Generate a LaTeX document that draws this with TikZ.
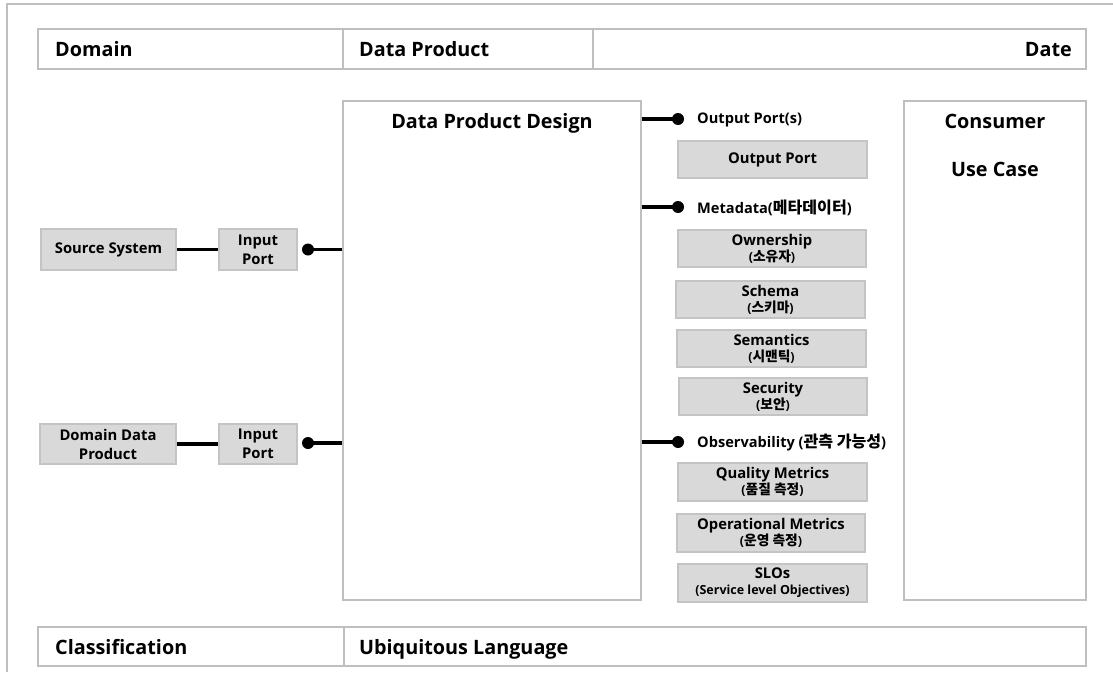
\documentclass[tikz,border=0pt]{standalone}
\usepackage{fontspec}
\setmainfont{Open Sans}
\newfontfamily\kr{Noto Sans CJK KR}[Scale=1.1]
\usetikzlibrary{calc}

\definecolor{frame}{HTML}{BFBFBF}
\definecolor{boxfill}{HTML}{D9D9D9}
\definecolor{boxline}{HTML}{C4C4C4}

% smaller second line inside the metadata / metric boxes
\newcommand{\subline}[1]{{\fontsize{12.5}{15}\selectfont\bfseries #1}}

\tikzset{
  x=1pt, y=-1pt,
  frameline/.style={draw=frame, line width=1.6pt},
  graybox/.style={draw=boxline, fill=boxfill, line width=1.2pt, align=center,
    inner sep=0pt, font=\fontsize{14.8}{19}\selectfont\bfseries},
  bigtext/.style={font=\fontsize{19.8}{22}\selectfont\bfseries, inner sep=0pt},
  porttext/.style={font=\fontsize{14.6}{16}\selectfont\bfseries, inner sep=0pt, anchor=west},
  wire/.style={line width=3.6pt, black},
  plug/.style={circle, fill=black, inner sep=0pt, minimum size=12pt},
}

\begin{document}
\begin{tikzpicture}
\useasboundingbox (0,0) rectangle (1113,672);

% outer sheet edge
\draw[frameline] (7,672) -- (7,4) -- (1113,4);

% header row
\node[frameline, minimum width=1048pt, minimum height=40pt, inner sep=0pt] (header) at (562,49) {};
\draw[frameline] (343,29) -- (343,69);
\draw[frameline] (593,29) -- (593,69);
\node[bigtext, anchor=base west] (domain) at (55,56.5) {Domain};
\node[bigtext, anchor=base west] (dproduct) at (359,56.5) {Data Product};
\node[bigtext, anchor=base east] (date) at (1072,56.5) {Date};

% footer row
\node[frameline, minimum width=1048pt, minimum height=39pt, inner sep=0pt] (footer) at (562,646.5) {};
\draw[frameline] (344,627) -- (344,666);
\node[bigtext, anchor=base west] (classif) at (55,654) {Classification};
\node[bigtext, anchor=base west] (ubiq) at (359,654) {Ubiquitous Language};

% main design box
\node[frameline, minimum width=298pt, minimum height=499pt, inner sep=0pt] (design) at (492,350.5) {};
\node[bigtext, anchor=base] (designtitle) at (492,128) {Data Product Design};

% consumer box
\node[frameline, minimum width=182pt, minimum height=499pt, inner sep=0pt] (consumer) at (995,350.5) {};
\node[bigtext, anchor=base] (consumertitle) at (995,128) {Consumer};
\node[bigtext, anchor=base] (usecase) at (995,176) {Use Case};

% inputs
\node[graybox, minimum width=135pt, minimum height=41pt] (source) at (108.5,249.5) {Source System};
\node[graybox, minimum width=78pt, minimum height=41pt] (in1) at (258,249.5) {Input\\Port};
\node[graybox, minimum width=136pt, minimum height=40pt] (ddp) at (108,444) {Domain Data\\Product};
\node[graybox, minimum width=78pt, minimum height=40pt] (in2) at (258,444) {Input\\Port};

\node[plug] (d1) at (308,249.5) {};
\node[plug] (d2) at (308,443) {};

\draw[wire] (source.east) -- (in1.west);
\draw[wire] (ddp.east) -- (in2.west);
\draw[wire] (d1.center) -- (d1.center -| design.west);
\draw[wire] (d2.center) -- (d2.center -| design.west);

% output side
\node[plug] (o1) at (678,119) {};
\node[plug] (o2) at (678,207) {};
\node[plug] (o3) at (678,442) {};
\draw[wire] (o1.center -| design.east) -- (o1.center);
\draw[wire] (o2.center -| design.east) -- (o2.center);
\draw[wire] (o3.center -| design.east) -- (o3.center);

\node[porttext] (outports) at (697,119.5) {Output Port(s)};
\node[porttext] (meta) at (697,207.5) {Metadata({\kr 메타데이터})};
\node[porttext] (obs) at (697,442.5) {Observability ({\kr 관측 가능성})};

\node[graybox, minimum width=189pt, minimum height=37pt] (outport) at (772.5,159.5) {Output Port};
\node[graybox, minimum width=188pt, minimum height=37pt] (own) at (772,248.5) {Ownership\\[-3pt]\subline{({\kr 소유자})}};
\node[graybox, minimum width=189pt, minimum height=37pt] (schema) at (770.5,299.5) {Schema\\[-3pt]\subline{({\kr 스키마})}};
\node[graybox, minimum width=189pt, minimum height=37pt] (sem) at (771.5,348.5) {Semantics\\[-3pt]\subline{({\kr 시맨틱})}};
\node[graybox, minimum width=188pt, minimum height=37pt] (sec) at (773,396.5) {Security\\[-3pt]\subline{({\kr 보안})}};

\node[graybox, minimum width=189pt, minimum height=38pt] (qual) at (772.5,482) {Quality Metrics\\[-3pt]\subline{({\kr 품질 측정})}};
\node[graybox, minimum width=188pt, minimum height=38pt] (ops) at (771,533) {Operational Metrics\\[-3pt]\subline{({\kr 운영 측정})}};
\node[graybox, minimum width=189pt, minimum height=38pt] (slo) at (772.5,583) {SLOs\\[-3pt]\subline{(Service level Objectives)}};
\end{tikzpicture}
\end{document}
